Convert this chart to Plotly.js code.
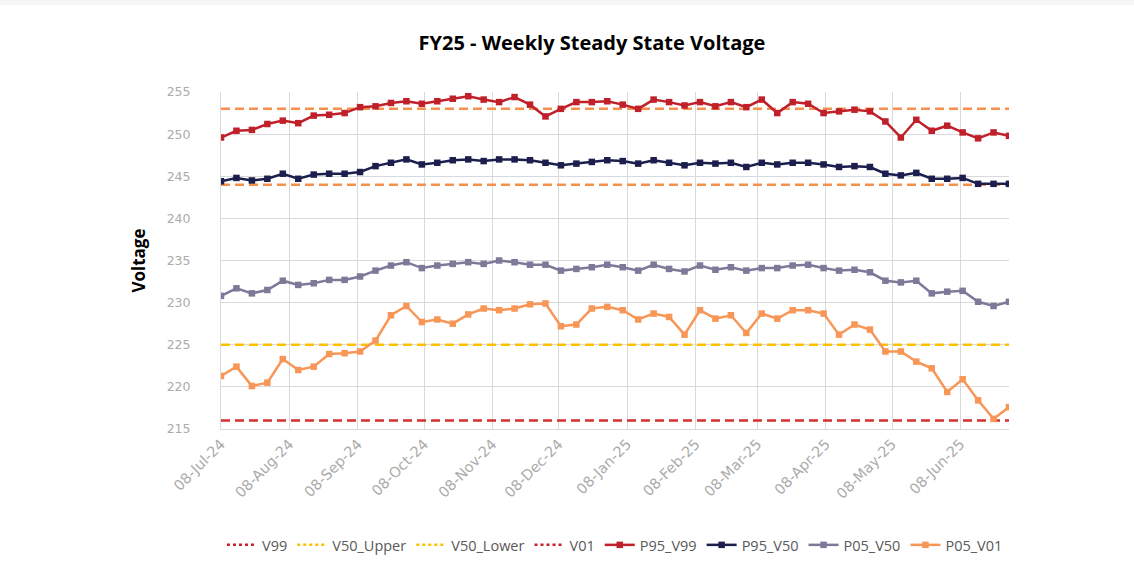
<!DOCTYPE html>
<html>
<head>
<meta charset="utf-8">
<script src="https://cdn.plot.ly/plotly-3.0.1.min.js"></script>
<style>
  html, body { margin: 0; padding: 0; background: #f4f5f5; }
  #chart { width: 1134px; height: 571px; margin-top: 5px; background: #ffffff; }
</style>
</head>
<body>
<div id="chart"></div>
<script>
// ---- data ----
const weeks = [
  "2024-07-08","2024-07-15","2024-07-22","2024-07-29",
  "2024-08-05","2024-08-12","2024-08-19","2024-08-26",
  "2024-09-02","2024-09-09","2024-09-16","2024-09-23","2024-09-30",
  "2024-10-07","2024-10-14","2024-10-21","2024-10-28",
  "2024-11-04","2024-11-11","2024-11-18","2024-11-25",
  "2024-12-02","2024-12-09","2024-12-16","2024-12-23","2024-12-30",
  "2025-01-06","2025-01-13","2025-01-20","2025-01-27",
  "2025-02-03","2025-02-10","2025-02-17","2025-02-24",
  "2025-03-03","2025-03-10","2025-03-17","2025-03-24","2025-03-31",
  "2025-04-07","2025-04-14","2025-04-21","2025-04-28",
  "2025-05-05","2025-05-12","2025-05-19","2025-05-26",
  "2025-06-02","2025-06-09","2025-06-16","2025-06-23","2025-06-30"
];

const P95_V99 = [249.6,250.4,250.5,251.2,251.6,251.3,252.2,252.3,252.5,253.2,253.3,253.7,253.9,
  253.6,253.9,254.2,254.5,254.1,253.8,254.4,253.5,252.1,253.0,253.8,253.8,253.9,
  253.5,253.0,254.1,253.8,253.4,253.8,253.3,253.8,253.2,254.1,252.5,253.8,253.6,
  252.5,252.7,252.9,252.7,251.5,249.6,251.7,250.4,251.0,250.2,249.5,250.2,249.8];

const P95_V50 = [244.4,244.8,244.5,244.7,245.3,244.7,245.2,245.3,245.3,245.5,246.2,246.6,247.0,
  246.4,246.6,246.9,247.0,246.8,247.0,247.0,246.9,246.6,246.3,246.5,246.7,246.9,
  246.8,246.5,246.9,246.6,246.3,246.6,246.5,246.6,246.1,246.6,246.4,246.6,246.6,
  246.4,246.1,246.2,246.1,245.3,245.1,245.4,244.7,244.7,244.8,244.1,244.1,244.1];

const P05_V50 = [230.8,231.7,231.1,231.5,232.6,232.1,232.3,232.7,232.7,233.1,233.8,234.4,234.8,
  234.1,234.4,234.6,234.8,234.6,235.0,234.8,234.5,234.5,233.8,234.0,234.2,234.5,
  234.2,233.8,234.5,234.0,233.7,234.4,233.9,234.2,233.8,234.1,234.1,234.4,234.5,
  234.1,233.8,233.9,233.6,232.6,232.4,232.6,231.1,231.3,231.4,230.1,229.6,230.1];

const P05_V01 = [221.3,222.4,220.1,220.5,223.3,222.0,222.4,223.9,224.0,224.2,225.5,228.5,229.6,
  227.7,228.0,227.5,228.6,229.3,229.1,229.3,229.8,229.9,227.2,227.4,229.3,229.5,
  229.1,228.0,228.7,228.3,226.2,229.1,228.1,228.5,226.4,228.7,228.1,229.1,229.1,
  228.7,226.2,227.4,226.8,224.2,224.2,223.0,222.2,219.4,220.9,218.4,216.2,217.6];

// reference limit levels as drawn in the plot
const refNames  = ["V99", "V50_Upper", "V50_Lower", "V01"];
const refLevels = [253, 244, 225, 216];

const tickDates  = ["2024-07-08","2024-08-08","2024-09-08","2024-10-08","2024-11-08","2024-12-08",
                    "2025-01-08","2025-02-08","2025-03-08","2025-04-08","2025-05-08","2025-06-08"];
const tickLabels = ["08-Jul-24","08-Aug-24","08-Sep-24","08-Oct-24","08-Nov-24","08-Dec-24",
                    "08-Jan-25","08-Feb-25","08-Mar-25","08-Apr-25","08-May-25","08-Jun-25"];

const yTicks = [215,220,225,230,235,240,245,250,255];

// ---- styles ----
const refPlotColors   = ["#F5914C", "#F5914C", "#FFC000", "#D32F2F"];
const refLegendColors = ["#C8202F", "#FFC000", "#FFC000", "#C8202F"];

const seriesDefs = [
  {name: "P95_V99", y: P95_V99, color: "#C0202A"},
  {name: "P95_V50", y: P95_V50, color: "#1C1E4E"},
  {name: "P05_V50", y: P05_V50, color: "#7D7998"},
  {name: "P05_V01", y: P05_V01, color: "#F79656"}
];

const traces = [];
const firstDay = weeks[0], lastDay = weeks[weeks.length - 1];

// reference lines (plot)
refLevels.forEach((lvl, i) => {
  traces.push({
    type: "scatter", mode: "lines",
    x: [firstDay, lastDay], y: [lvl, lvl],
    line: {color: refPlotColors[i], width: 2.5, dash: "9px,5px"},
    showlegend: false, hoverinfo: "skip"
  });
});
// reference legend entries
refNames.forEach((nm, i) => {
  traces.push({
    type: "scatter", mode: "lines", name: nm,
    x: [null], y: [null],
    line: {color: refLegendColors[i], width: 2.5, dash: "dot"},
    showlegend: true
  });
});
// data series
seriesDefs.forEach(s => {
  traces.push({
    type: "scatter", mode: "lines+markers", name: s.name,
    x: weeks, y: s.y,
    line: {color: s.color, width: 2.5},
    marker: {symbol: "square", size: 6.5, color: s.color}
  });
});

const layout = {
  width: 1134, height: 571,
  paper_bgcolor: "#ffffff", plot_bgcolor: "#ffffff",
  margin: {l: 221, r: 125, t: 87, b: 147},
  font: {family: "'Open Sans', sans-serif", color: "#595959", size: 12},
  title: {
    text: "<b>FY25 - Weekly Steady State Voltage</b>",
    font: {family: "'Open Sans', sans-serif", size: 20, color: "#000000"},
    x: 0.522, xanchor: "center", y: 0.934, yanchor: "middle"
  },
  xaxis: {
    type: "date",
    range: [firstDay, lastDay],
    tickvals: tickDates, ticktext: tickLabels,
    tickangle: -45,
    tickfont: {family: "'DejaVu Sans', sans-serif", color: "#ABABAB", size: 14.5},
    showgrid: true, gridcolor: "#D9D9D9", gridwidth: 1,
    showline: true, linecolor: "#D9D9D9", linewidth: 1,
    zeroline: false, ticks: "", automargin: false
  },
  yaxis: {
    range: [215, 255],
    tickvals: yTicks,
    tickfont: {family: "'DejaVu Sans', sans-serif", color: "#ABABAB", size: 12.5},
    showgrid: true, gridcolor: "#D9D9D9", gridwidth: 1,
    showline: true, linecolor: "#D9D9D9", linewidth: 1,
    zeroline: false, ticks: "", ticklabelstandoff: 27,
    automargin: false,
    title: {text: "<b>Voltage</b>", font: {family: "'Open Sans', sans-serif", size: 17, color: "#000000"}, standoff: 16}
  },
  legend: {
    orientation: "h", x: 0.5, xanchor: "center", y: -0.344, yanchor: "middle",
    font: {family: "'Open Sans', sans-serif", size: 14.5, color: "#595959"}, itemwidth: 30, traceorder: "normal"
  },
  hovermode: false,
  showlegend: true
};

Plotly.newPlot("chart", traces, layout, {displayModeBar: false, staticPlot: true});
</script>
</body>
</html>
